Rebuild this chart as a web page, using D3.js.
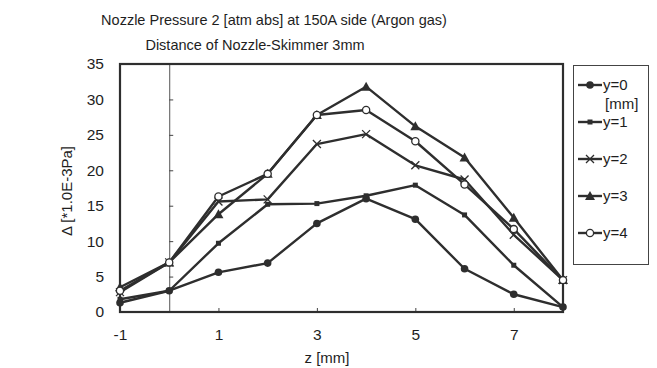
<!DOCTYPE html>
<html>
<head>
<meta charset="utf-8">
<script src="https://cdn.jsdelivr.net/npm/d3@7/dist/d3.min.js"></script>
<style>
  body { margin: 0; background: #fff; }
  svg { display: block; font-family: "Liberation Sans", Arial, sans-serif; }
</style>
</head>
<body>
<script>
// data
var zValues = [-1, 0, 1, 2, 3, 4, 5, 6, 7, 8];
var seriesNames = ["y=0", "y=1", "y=2", "y=3", "y=4"];
var y0 = [1.3, 3.0, 5.6, 6.9, 12.5, 16.0, 13.1, 6.1, 2.5, 0.7];
var y1 = [1.8, 3.0, 9.7, 15.2, 15.3, 16.4, 17.9, 13.7, 6.6, 0.7];
var y2 = [2.8, 7.0, 15.6, 15.9, 23.7, 25.1, 20.7, 18.7, 10.9, 4.5];
var y3 = [3.5, 7.0, 13.8, 19.5, 27.8, 31.8, 26.2, 21.8, 13.3, 4.5];
var y4 = [3.0, 7.0, 16.3, 19.5, 27.8, 28.5, 24.1, 18.0, 11.7, 4.5];
var markers = ["dot", "square", "cross", "triangle", "ring"];
var xTicks = [-1, 1, 3, 5, 7];
var yTicks = [0, 5, 10, 15, 20, 25, 30, 35];

var allSeries = [y0, y1, y2, y3, y4];
var ink = "#2e2e2e";

var width = 657, height = 368;
var margin = { top: 64, right: 94, bottom: 56, left: 120 },
    plotW = width - margin.left - margin.right,
    plotH = height - margin.top - margin.bottom;

var svg = d3.select("body").append("svg")
    .attr("width", width)
    .attr("height", height);

// titles
svg.append("text")
    .attr("x", 274).attr("y", 25)
    .attr("text-anchor", "middle")
    .style("font-size", "14.5px").style("fill", "#1e1e1e")
    .text("Nozzle Pressure 2 [atm abs] at 150A side (Argon gas)");
svg.append("text")
    .attr("x", 255).attr("y", 50)
    .attr("text-anchor", "middle")
    .style("font-size", "14.5px").style("fill", "#1e1e1e")
    .text("Distance of Nozzle-Skimmer 3mm");

var g = svg.append("g")
    .attr("transform", "translate(" + margin.left + "," + margin.top + ")");

// scales
var x = d3.scaleLinear().domain([-1, 8]).range([0, plotW]);
var y = d3.scaleLinear().domain([0, 35]).range([plotH, 0]);

// vertical axis crosses at z = 0, ticks pointing inwards
var yAxisLine = g.append("g")
    .attr("transform", "translate(" + x(0) + ",0)")
    .call(d3.axisRight(y).tickValues(yTicks.slice(1, -1)).tickSize(4).tickFormat(""));
yAxisLine.select(".domain").attr("stroke", "#555").attr("stroke-width", 1);
yAxisLine.selectAll(".tick line").attr("stroke", "#444");

// y tick labels at the low side
var yLabels = g.append("g")
    .call(d3.axisLeft(y).tickValues(yTicks).tickSize(0).tickPadding(16));
yLabels.select(".domain").remove();
yLabels.selectAll("text")
    .style("font-size", "15.5px").style("fill", "#1e1e1e")
    .style("font-family", "'Liberation Sans', Arial, sans-serif");

// x axis
var xAxis = g.append("g")
    .attr("transform", "translate(0," + plotH + ")")
    .call(d3.axisBottom(x).tickValues(xTicks).tickSize(-4).tickPadding(17)
        .tickFormat(function (d) { return String(d); }));
xAxis.select(".domain").remove();
xAxis.selectAll(".tick line").attr("stroke", "#444");
xAxis.selectAll("text")
    .style("font-size", "15.5px").style("fill", "#1e1e1e")
    .style("font-family", "'Liberation Sans', Arial, sans-serif");

// plot frame
g.append("rect")
    .attr("x", 0).attr("y", 0)
    .attr("width", plotW).attr("height", plotH)
    .style("fill", "none")
    .style("stroke", ink)
    .style("stroke-width", 2.2);

// axis titles
svg.append("text")
    .attr("x", 327).attr("y", 363)
    .attr("text-anchor", "middle")
    .style("font-size", "15px").style("fill", "#1e1e1e")
    .text("z [mm]");
svg.append("text")
    .attr("transform", "translate(72,191) rotate(-90)")
    .attr("text-anchor", "middle")
    .style("font-size", "15px").style("fill", "#1e1e1e")
    .text("\u0394 [*1.0E-3Pa]");

// draw a marker of a given kind centred at (cx, cy)
function drawMarker(sel, kind, cx, cy) {
    if (kind == "dot") {
        sel.append("circle").attr("cx", cx).attr("cy", cy).attr("r", 3.8)
            .style("fill", ink);
    } else if (kind == "square") {
        sel.append("rect").attr("x", cx - 2.5).attr("y", cy - 2.5)
            .attr("width", 5).attr("height", 5).style("fill", ink);
    } else if (kind == "cross") {
        sel.append("path")
            .attr("d", "M" + (cx - 4) + "," + (cy - 4) + "L" + (cx + 4) + "," + (cy + 4) +
                       "M" + (cx - 4) + "," + (cy + 4) + "L" + (cx + 4) + "," + (cy - 4))
            .style("stroke", ink).style("stroke-width", 1.3);
    } else if (kind == "triangle") {
        sel.append("path")
            .attr("d", "M" + cx + "," + (cy - 5) + "L" + (cx + 5) + "," + (cy + 4) + "L" + (cx - 5) + "," + (cy + 4) + "Z")
            .style("fill", ink);
    } else {
        sel.append("circle").attr("cx", cx).attr("cy", cy).attr("r", 3.6)
            .style("fill", "#fff").style("stroke", ink).style("stroke-width", 1.3);
    }
}

// series lines
var line = d3.line()
    .x(function (d, i) { return x(zValues[i]); })
    .y(function (d) { return y(d); });

allSeries.forEach(function (s, k) {
    g.append("path")
        .attr("d", line(s))
        .style("fill", "none")
        .style("stroke", ink)
        .style("stroke-width", 2.4)
        .style("stroke-linejoin", "round");
});
allSeries.forEach(function (s, k) {
    var mg = g.append("g");
    s.forEach(function (v, i) {
        drawMarker(mg, markers[k], x(zValues[i]), y(v));
    });
});

// legend
var legend = svg.append("g");
legend.append("rect")
    .attr("x", 573.5).attr("y", 65.5)
    .attr("width", 75).attr("height", 199)
    .style("fill", "#fff").style("stroke", "#444").style("stroke-width", 1);

seriesNames.forEach(function (name, k) {
    var ly = 85 + k * 37;
    legend.append("line")
        .attr("x1", 578).attr("x2", 602)
        .attr("y1", ly).attr("y2", ly)
        .style("stroke", ink).style("stroke-width", 2.4);
    drawMarker(legend, markers[k], 590, ly);
    legend.append("text")
        .attr("x", 603).attr("y", ly + 5)
        .style("font-size", "15px").style("fill", "#1e1e1e")
        .text(name);
});
legend.append("text")
    .attr("x", 605).attr("y", 109)
    .style("font-size", "15px").style("fill", "#1e1e1e")
    .text("[mm]");
</script>
</body>
</html>
